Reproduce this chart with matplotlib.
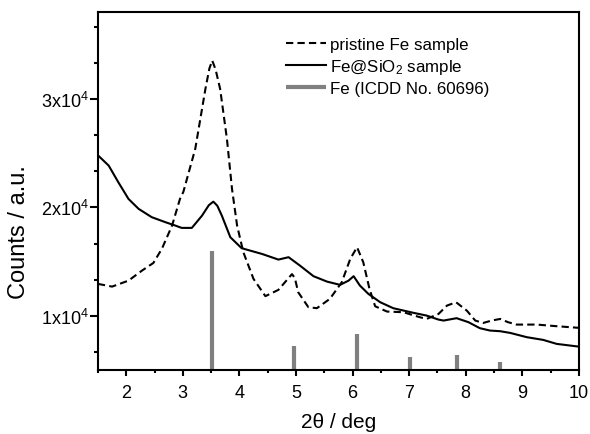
import numpy as np
import matplotlib
matplotlib.use("Agg")
import matplotlib.pyplot as plt
from matplotlib.ticker import MultipleLocator, FixedLocator

plt.rcParams['font.family'] = ['Liberation Sans', 'DejaVu Sans']
plt.rcParams['mathtext.fontset'] = 'custom'
plt.rcParams['mathtext.rm'] = 'Liberation Sans'
plt.rcParams['mathtext.it'] = 'Liberation Sans:italic'

# pristine Fe sample (dashed)
pristine_x = [1.50, 1.75, 2.04, 2.28, 2.48, 2.63, 2.81, 2.95, 3.01, 3.22, 3.40, 3.47, 3.52,
              3.58, 3.66, 3.78, 3.87, 3.96, 4.07, 4.25, 4.46, 4.69, 4.88, 4.93, 4.98, 5.04, 5.22, 5.37,
              5.60, 5.81, 5.96, 6.08, 6.19, 6.30, 6.40, 6.61, 6.90, 7.19, 7.31, 7.52,
              7.67, 7.83, 8.02, 8.17, 8.31, 8.46, 8.61, 8.75, 8.90, 9.26, 9.61, 10.0]
pristine_y = [12950, 12700, 13250, 14180, 14880, 16180, 18320, 20780, 21430, 25390, 30920, 32800, 33530,
              32700, 30920, 26310, 21700, 18320, 15870, 13410, 11820, 12400, 13550, 13850, 13500, 12180, 10800, 10710,
              11570, 13100, 15250, 16330, 14950, 12490, 10890, 10400, 10340, 9880, 9720, 10180,
              10950, 11260, 10490, 9570, 9350, 9570, 9720, 9420, 9200, 9200, 9050, 8900]

# Fe@SiO2 sample (solid)
coated_x = [1.50, 1.69, 1.86, 2.04, 2.22, 2.45, 2.69, 2.87, 2.98, 3.16, 3.34, 3.46, 3.54, 3.61,
            3.69, 3.84, 4.04, 4.40, 4.69, 4.87, 5.07, 5.31, 5.55, 5.78, 5.93, 6.02, 6.13,
            6.28, 6.49, 6.72, 7.08, 7.31, 7.52, 7.61, 7.84, 8.05, 8.25, 8.43, 8.61,
            8.79, 9.08, 9.37, 9.61, 10.0]
coated_y = [24800, 23850, 22320, 20780, 19860, 19100, 18640, 18320, 18110, 18110, 19240, 20200, 20530, 20150,
            19240, 17250, 16240, 15710, 15190, 15410, 14640, 13660, 13160, 12860, 13250, 13660, 12800,
            12030, 11260, 10710, 10280, 10030, 9660, 9570, 9790, 9420, 8870, 8650, 8590,
            8430, 8040, 7790, 7420, 7170]

# Fe reference (ICDD No. 60696)
ref_x = [3.52, 4.97, 6.08, 7.02, 7.84, 8.60]
ref_y = [16020, 7260, 8340, 6220, 6400, 5760]

y_ticks = [10000, 20000, 30000]
y_labels = ['1x10$^{4}$', '2x10$^{4}$', '3x10$^{4}$']

fig = plt.figure(figsize=(5.9, 4.35), dpi=100)
ax = fig.add_axes([0.166, 0.148, 0.815, 0.822])

ax.plot(pristine_x, pristine_y, color='black', lw=1.5, dashes=(3.5, 2), label='pristine Fe sample')
ax.plot(coated_x, coated_y, color='black', lw=1.5, label='Fe@SiO$_2$ sample')
ax.vlines(ref_x, 0, ref_y, color='#808080', lw=3, label='Fe (ICDD No. 60696)')

ax.set_xlim(1.5, 10)
ax.set_ylim(5050, 38000)
ax.xaxis.set_major_locator(MultipleLocator(1))
ax.xaxis.set_minor_locator(MultipleLocator(0.5))
ax.set_yticks(y_ticks)
ax.set_yticklabels(y_labels)
ax.yaxis.set_minor_locator(FixedLocator([6667, 13333, 16667, 23333, 26667, 33333, 36667]))

ax.tick_params(which='both', direction='out', labelsize=13, width=1.5)
ax.tick_params(axis='x', which='major', length=4, pad=6)
ax.tick_params(axis='x', which='minor', length=2.5)
ax.tick_params(axis='y', which='major', length=5.5, pad=1)
ax.tick_params(axis='y', which='minor', length=3)
for s in ax.spines.values():
    s.set_linewidth(1.5)

ax.set_xlabel('2θ / deg', fontsize=15, labelpad=8)
ax.set_ylabel('Counts / a.u.', fontsize=17, labelpad=8, y=0.388)

ax.legend(loc='upper left', bbox_to_anchor=(0.377, 0.95), frameon=False, fontsize=12.2,
          handlelength=2.35, handletextpad=0.25, labelspacing=0.3, borderaxespad=0)

fig.savefig('out.png', dpi=100)
